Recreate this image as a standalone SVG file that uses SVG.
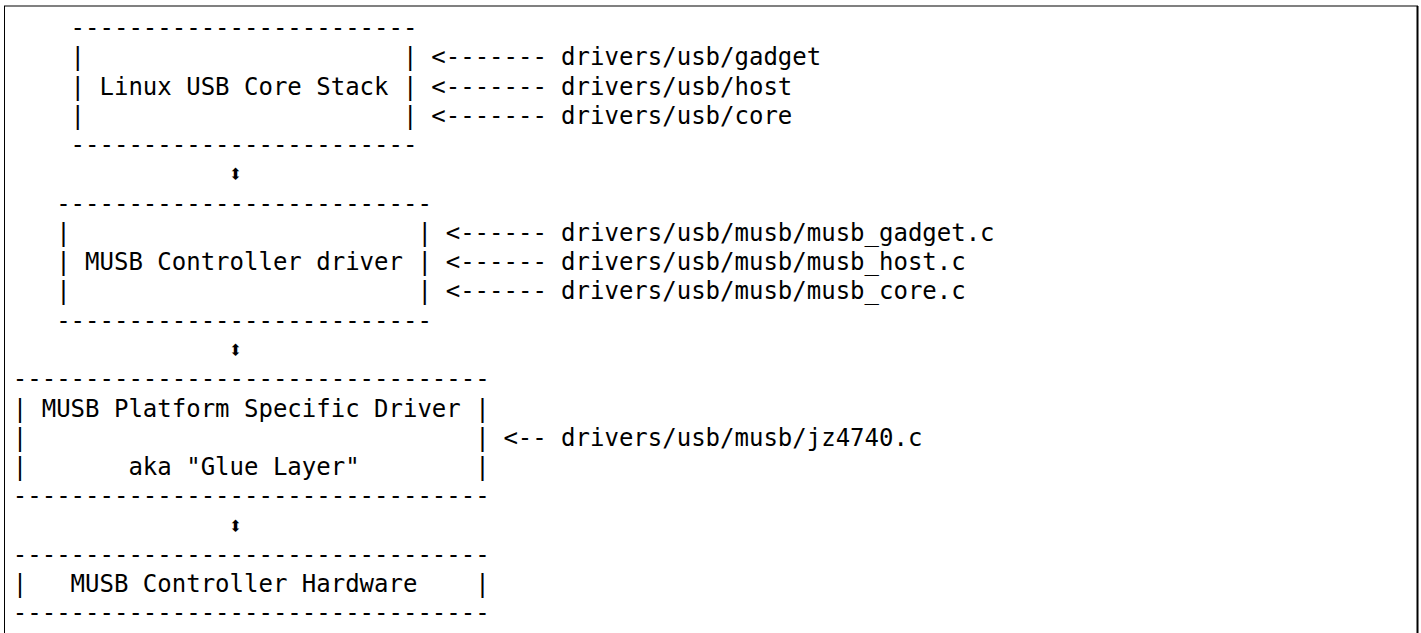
<svg xmlns="http://www.w3.org/2000/svg" width="1421" height="633" viewBox="0 0 1421 633">
  <style>
    text { font-family: "DejaVu Sans Mono", "Liberation Mono", monospace; font-size: 24px; fill: #000; white-space: pre; }
    .frame-top { stroke: #808080; stroke-width: 2; }
    .frame-side { stroke: #000; }
  </style>
  <rect width="1421" height="633" fill="#fff"/>
  <g id="frame">
    <line class="frame-top" x1="4" y1="6" x2="1418" y2="6"/>
    <line class="frame-side" x1="4.5" y1="6" x2="4.5" y2="633" stroke-width="1"/>
    <line class="frame-side" x1="1417.5" y1="6" x2="1417.5" y2="633" stroke-width="2"/>
  </g>
  <g id="node-core-stack">
    <text x="12.8" y="36" xml:space="preserve">    ------------------------</text>
    <text x="12.8" y="65.27" xml:space="preserve">    |                      |</text>
    <text x="12.8" y="94.54" xml:space="preserve">    | Linux USB Core Stack |</text>
    <text x="12.8" y="123.81" xml:space="preserve">    |                      |</text>
    <text x="12.8" y="153.08" xml:space="preserve">    ------------------------</text>
  </g>
  <g id="node-controller-driver">
    <text x="12.8" y="211.62" xml:space="preserve">   --------------------------</text>
    <text x="12.8" y="240.89" xml:space="preserve">   |                        |</text>
    <text x="12.8" y="270.16" xml:space="preserve">   | MUSB Controller driver |</text>
    <text x="12.8" y="299.43" xml:space="preserve">   |                        |</text>
    <text x="12.8" y="328.7" xml:space="preserve">   --------------------------</text>
  </g>
  <g id="node-glue-layer">
    <text x="12.8" y="387.24" xml:space="preserve">---------------------------------</text>
    <text x="12.8" y="416.51" xml:space="preserve">| MUSB Platform Specific Driver |</text>
    <text x="12.8" y="445.78" xml:space="preserve">|                               |</text>
    <text x="12.8" y="475.05" xml:space="preserve">|       aka "Glue Layer"        |</text>
    <text x="12.8" y="504.32" xml:space="preserve">---------------------------------</text>
  </g>
  <g id="node-hardware">
    <text x="12.8" y="562.86" xml:space="preserve">---------------------------------</text>
    <text x="12.8" y="592.13" xml:space="preserve">|   MUSB Controller Hardware    |</text>
    <text x="12.8" y="621.4" xml:space="preserve">---------------------------------</text>
  </g>
  <g id="labels">
    <text x="561.1" y="65.27">drivers/usb/gadget</text>
    <text x="561.1" y="94.54">drivers/usb/host</text>
    <text x="561.1" y="123.81">drivers/usb/core</text>
    <text x="561.1" y="240.89">drivers/usb/musb/musb_gadget.c</text>
    <text x="561.1" y="270.16">drivers/usb/musb/musb_host.c</text>
    <text x="561.1" y="299.43">drivers/usb/musb/musb_core.c</text>
    <text x="561.1" y="445.78">drivers/usb/musb/jz4740.c</text>
  </g>
  <g id="connectors">
    <text x="431.3" y="65.27">&lt;-------</text>
    <text x="431.3" y="94.54">&lt;-------</text>
    <text x="431.3" y="123.81">&lt;-------</text>
    <text x="445.7" y="240.89">&lt;------</text>
    <text x="445.7" y="270.16">&lt;------</text>
    <text x="445.7" y="299.43">&lt;------</text>
    <text x="503.4" y="445.78">&lt;--</text>
    <text x="235.5" y="182.35" text-anchor="middle">⬍</text>
    <text x="235.5" y="357.97" text-anchor="middle">⬍</text>
    <text x="235.5" y="533.59" text-anchor="middle">⬍</text>
  </g>
</svg>
